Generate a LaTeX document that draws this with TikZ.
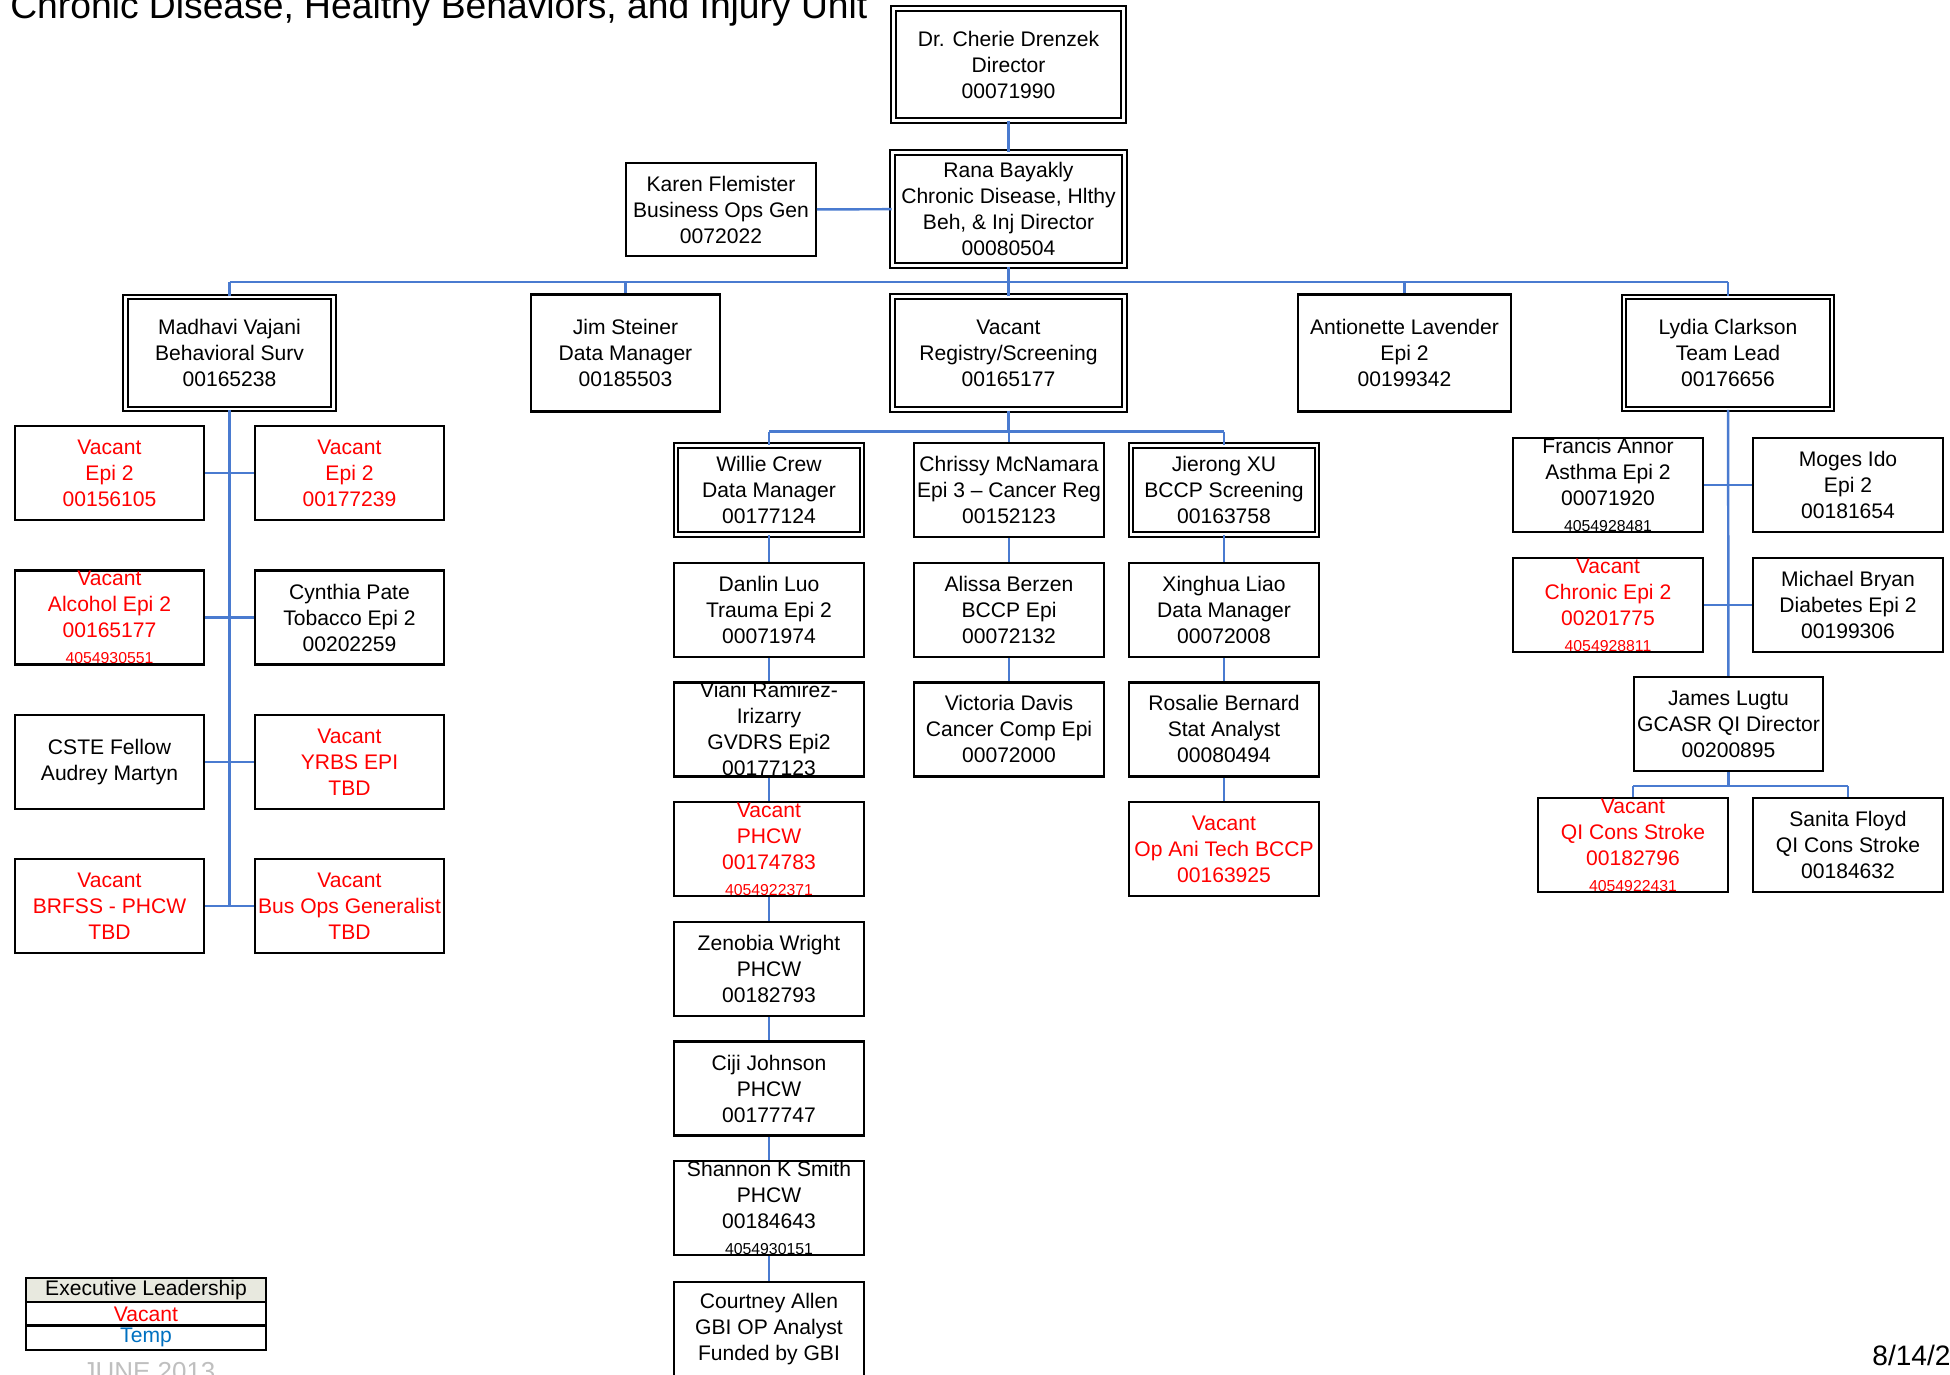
\documentclass[tikz,border=0pt]{standalone}
\usepackage{fontspec}
\setmainfont{Liberation Sans}
\usepackage{xcolor}
\usepackage{tikz}
\usetikzlibrary{positioning, calc}

\definecolor{linkblue}{RGB}{74,123,208}
\definecolor{tempblue}{RGB}{0,112,192}
\definecolor{legendgray}{RGB}{232,233,223}

\newcommand{\phone}[1]{{\fontsize{9}{10}\selectfont #1}}

\begin{document}
\begin{tikzpicture}[x=0.02cm, y=-0.02cm,
        posbox/.style={draw, line width=1.25pt, minimum width=107.9pt, minimum height=53.5pt,
                inner sep=0pt, align=center, font=\fontsize{12}{14.8}\selectfont},
        tallbox/.style={posbox, minimum height=66.6pt},
        dblbox/.style={posbox, double, double distance=1.6pt, line width=1.15pt},
        vacant/.style={text=red},
        link/.style={draw=linkblue, line width=1.4pt},
        legend/.style={draw, line width=1.2pt, minimum width=136.6pt, minimum height=13.7pt,
                inner sep=0pt, font=\fontsize{12}{13}\selectfont}]
        \useasboundingbox (0,0) rectangle (1950,1374);
        \clip (0,0) rectangle (1950,1374);

        \node[anchor=base west, inner sep=0pt, font=\fontsize{21.2}{24}\selectfont] (title) at (10,18)
                {Chronic Disease, Healthy Behaviors, and Injury Unit};

        % Top of the unit
        \node[dblbox, minimum width=130.9pt, minimum height=63.7pt] (dir) at (1008.5,64.5)
                {Dr. Cherie Drenzek\\Director\\00071990};
        \node[dblbox, minimum width=132pt, minimum height=64.3pt] (rana) at (1008.5,209)
                {Rana Bayakly\\Chronic Disease, Hlthy\\Beh, \& Inj Director\\00080504};
        \node[posbox, minimum height=53pt] (karen) at (721,209.5)
                {Karen Flemister\\Business Ops Gen\\0072022};

        % Second level
        \node[dblbox, minimum width=118.4pt, minimum height=63.7pt] (madhavi) at (229.5,353)
                {Madhavi Vajani\\Behavioral Surv\\00165238};
        \node[tallbox, minimum width=107.6pt] (jim) at (625.5,353)
                {Jim Steiner\\Data Manager\\00185503};
        \node[dblbox, minimum width=132pt, minimum height=64.3pt] (reg) at (1008.5,353)
                {Vacant\\Registry/Screening\\00165177};
        \node[tallbox, minimum width=121.2pt] (anton) at (1404.5,353)
                {Antionette Lavender\\Epi 2\\00199342};
        \node[dblbox, minimum width=118.4pt, minimum height=63.7pt] (lydia) at (1728,353)
                {Lydia Clarkson\\Team Lead\\00176656};

        % Behavioral surveillance staff
        \node[posbox, vacant] (m1l) at (109.5,473) {Vacant\\Epi 2\\00156105};
        \node[posbox, vacant] (m1r) at (349.5,473) {Vacant\\Epi 2\\00177239};
        \node[posbox, vacant] (m2l) at (109.5,617.5) {Vacant\\Alcohol Epi 2\\00165177\\\phone{4054930551}};
        \node[posbox] (m2r) at (349.5,617.5) {Cynthia Pate\\Tobacco Epi 2\\00202259};
        \node[posbox] (m3l) at (109.5,762) {CSTE Fellow\\Audrey Martyn};
        \node[posbox, vacant] (m3r) at (349.5,762) {Vacant\\YRBS EPI\\TBD};
        \node[posbox, vacant] (m4l) at (109.5,906) {Vacant\\BRFSS - PHCW\\TBD};
        \node[posbox, vacant] (m4r) at (349.5,906) {Vacant\\Bus Ops Generalist\\TBD};

        % Registry / screening staff
        \node[dblbox, minimum width=105.9pt, minimum height=50.6pt] (c1r1) at (769,490)
                {Willie Crew\\Data Manager\\00177124};
        \node[posbox] (c1r2) at (769,609.7) {Danlin Luo\\Trauma Epi 2\\00071974};
        \node[posbox] (c1r3) at (769,729.4) {Viani Ramirez-\\Irizarry\\GVDRS Epi2\\00177123};
        \node[posbox, vacant] (c1r4) at (769,849.1) {Vacant\\PHCW\\00174783\\\phone{4054922371}};
        \node[posbox] (c1r5) at (769,968.8) {Zenobia Wright\\PHCW\\00182793};
        \node[posbox] (c1r6) at (769,1088.5) {Ciji Johnson\\PHCW\\00177747};
        \node[posbox] (c1r7) at (769,1208.2) {Shannon K Smith\\PHCW\\00184643\\\phone{4054930151}};
        \node[posbox] (c1r8) at (769,1329) {Courtney Allen\\GBI OP Analyst\\Funded by GBI};

        \node[posbox] (c2r1) at (1009,490) {Chrissy McNamara\\Epi 3 -- Cancer Reg\\00152123};
        \node[posbox] (c2r2) at (1009,609.7) {Alissa Berzen\\BCCP Epi\\00072132};
        \node[posbox] (c2r3) at (1009,729.4) {Victoria Davis\\Cancer Comp Epi\\00072000};

        \node[dblbox, minimum width=105.9pt, minimum height=50.6pt] (c3r1) at (1224,490)
                {Jierong XU\\BCCP Screening\\00163758};
        \node[posbox] (c3r2) at (1224,609.7) {Xinghua Liao\\Data Manager\\00072008};
        \node[posbox] (c3r3) at (1224,729.4) {Rosalie Bernard\\Stat Analyst\\00080494};
        \node[posbox, vacant] (c3r4) at (1224,849.1) {Vacant\\Op Ani Tech BCCP\\00163925};

        % Team lead staff
        \node[posbox] (l1l) at (1608,485) {Francis Annor\\Asthma Epi 2\\00071920\\\phone{4054928481}};
        \node[posbox] (l1r) at (1848,485) {Moges Ido\\Epi 2\\00181654};
        \node[posbox, vacant] (l2l) at (1608,605) {Vacant\\Chronic Epi 2\\00201775\\\phone{4054928811}};
        \node[posbox] (l2r) at (1848,605) {Michael Bryan\\Diabetes Epi 2\\00199306};
        \node[posbox] (james) at (1728.5,724) {James Lugtu\\GCASR QI Director\\00200895};
        \node[posbox, vacant] (qi) at (1633,845) {Vacant\\QI Cons Stroke\\00182796\\\phone{4054922431}};
        \node[posbox] (sanita) at (1848,845) {Sanita Floyd\\QI Cons Stroke\\00184632};

        % Connectors
        \coordinate (bus) at (1008.5,282);
        \coordinate (rbus) at (1008.5,431.5);
        \coordinate (jbus) at (1728.5,786);
        \draw[link] (dir) -- (rana);
        \draw[link] (karen) -- (rana);
        \draw[link] (rana) -- (bus);
        \draw[link] (bus -| madhavi) -- (bus -| lydia);
        \foreach \n in {madhavi, jim, reg, anton, lydia}
                \draw[link] (bus -| \n) -- (\n);

        \draw[link] (madhavi) -- (madhavi |- m4l);
        \foreach \r in {1,...,4}
                \draw[link] (m\r l) -- (m\r r);

        \draw[link] (reg) -- (rbus);
        \draw[link] (rbus -| c1r1) -- (rbus -| c3r1);
        \foreach \c in {1,2,3}
                \draw[link] (rbus -| c\c r1) -- (c\c r1);
        \foreach \a/\b in {1/2, 2/3, 3/4, 4/5, 5/6, 6/7, 7/8}
                \draw[link] (c1r\a) -- (c1r\b);
        \foreach \a/\b in {1/2, 2/3}
                \draw[link] (c2r\a) -- (c2r\b);
        \foreach \a/\b in {1/2, 2/3, 3/4}
                \draw[link] (c3r\a) -- (c3r\b);

        \draw[link] (lydia) -- (james);
        \draw[link] (l1l) -- (l1r);
        \draw[link] (l2l) -- (l2r);
        \draw[link] (james) -- (jbus);
        \draw[link] (jbus -| qi) -- (jbus -| sanita);
        \draw[link] (jbus -| qi) -- (qi);
        \draw[link] (jbus -| sanita) -- (sanita);

        % Legend
        \node[legend, fill=legendgray] (lgexec) at (146,1290) {Executive Leadership};
        \node[legend, text=red] (lgvac) at (146,1314) {Vacant};
        \node[legend, text=tempblue] (lgtemp) at (146,1337.5) {Temp};
        \node[anchor=base, inner sep=0pt, text=black!25, font=\fontsize{14.8}{16}\selectfont] (month) at (149,1380) {JUNE 2013};
        \node[anchor=base west, inner sep=0pt, font=\fontsize{16}{18}\selectfont] (date) at (1872,1365) {8/14/2013};
\end{tikzpicture}
\end{document}
